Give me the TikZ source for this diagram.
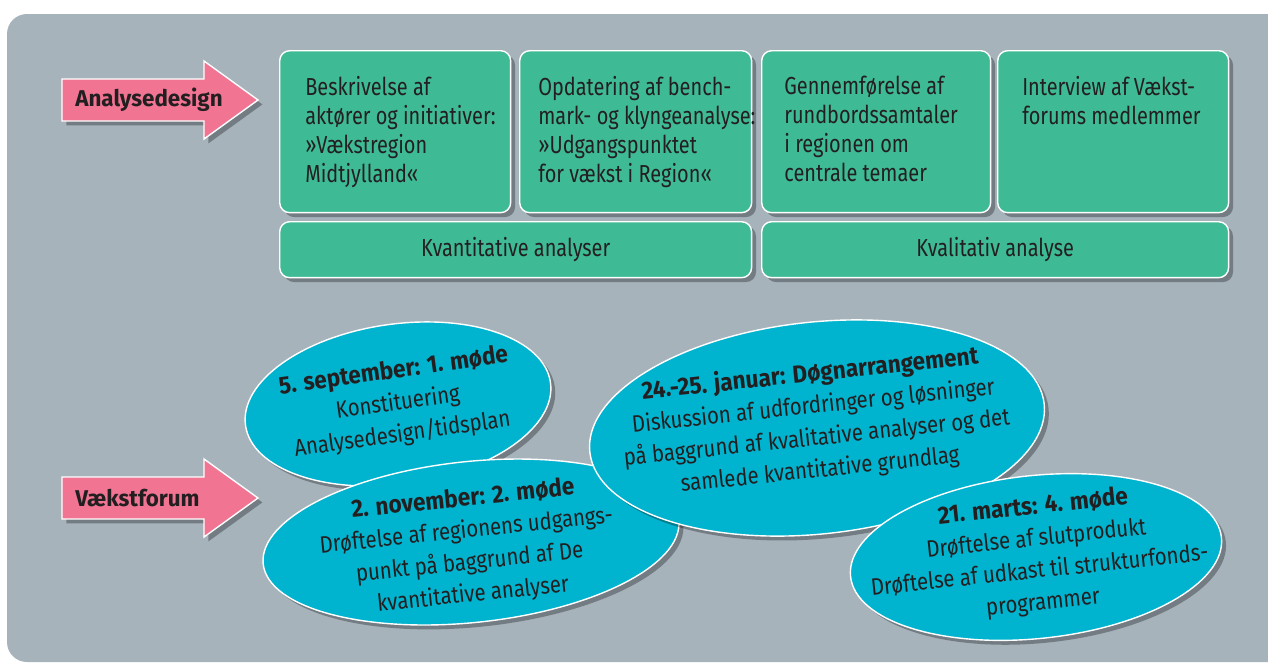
\documentclass[tikz,border=0pt]{standalone}
\usepackage{fontspec}
\setmainfont[FakeStretch=0.81]{Fira Sans}
\newfontfamily\ovalfont[FakeStretch=0.86]{Fira Sans}
\newfontfamily\headfont[FakeStretch=0.92]{Fira Sans}
\newfontfamily\tagfont[FakeStretch=0.98]{Fira Sans}
\usetikzlibrary{shapes.geometric}
\usetikzlibrary{shadows}
\definecolor{panelgray}{HTML}{A6B3BB}
\definecolor{boxgreen}{HTML}{3EBB95}
\definecolor{ovalcyan}{HTML}{00B3CE}
\definecolor{arrowpink}{HTML}{F17493}
\definecolor{ink}{HTML}{231F20}
\newcommand{\meethead}[1]{{\headfont\bfseries\fontsize{14pt}{18.2pt}\selectfont #1}}

\begin{document}
\begin{tikzpicture}[x=0.02cm, y=-0.02cm,
    softshadow/.style={drop shadow={shadow xshift=2.5pt, shadow yshift=-2.5pt, opacity=0.3, fill=black}},
    gbox/.style={draw=white, line width=0.8pt, fill=boxgreen, rounded corners=0.2cm, inner sep=0pt,
      anchor=north west, softshadow, text=ink, font=\fontsize{14pt}{16.5pt}\selectfont},
    btext/.style={inner sep=0pt, anchor=north west, align=left, text=ink, font=\fontsize{14pt}{16.5pt}\selectfont},
    oval/.style={ellipse, draw=white, line width=0.8pt, fill=ovalcyan, inner sep=0pt, softshadow},
    otext/.style={inner sep=0pt, align=center, text=ink, font=\ovalfont\fontsize{13.5pt}{18.2pt}\selectfont},
    tagarrow/.style={draw=white, line width=0.8pt, fill=arrowpink, softshadow},
    tagtext/.style={inner sep=0pt, anchor=west, text=ink, font=\tagfont\bfseries\fontsize{13pt}{15pt}\selectfont}]
  \useasboundingbox (0,0) rectangle (1268,664);
  \fill[white] (0,0) rectangle (1268,664);
  \fill[panelgray, rounded corners=0.4cm] (7,14) rectangle (1300,662);

  % pink arrows
  \foreach \ay/\nm/\txt in {100/ad/Analysedesign, 498/vf/Vækstforum} {
    \filldraw[tagarrow] (62,\ay-21) -- (204,\ay-21) -- (204,\ay-39) -- (258,\ay)
      -- (204,\ay+39) -- (204,\ay+21) -- (62,\ay+21) -- cycle;
    \node[tagtext] (\nm) at (75,\ay) {\txt};
  }

  % analysis boxes
  \node[gbox, minimum width=4.62cm, minimum height=3.24cm] (b1) at (279,50) {};
  \node[gbox, minimum width=4.64cm, minimum height=3.24cm] (b2) at (519,50) {};
  \node[gbox, minimum width=4.58cm, minimum height=3.24cm] (b3) at (761,50) {};
  \node[gbox, minimum width=4.62cm, minimum height=3.24cm] (b4) at (997,50) {};

  \node[btext] (t1) at ([shift={(26,26)}]b1.north west) {Beskrivelse af\\aktører og initiativer:\\»Vækstregion\\Midtjylland«};
  \node[btext] (t2) at ([shift={(19,26)}]b2.north west) {Opdatering af bench-\\mark- og klyngeanalyse:\\»Udgangspunktet\\for vækst i Region«};
  \node[btext] (t3) at ([shift={(23,26)}]b3.north west) {Gennemførelse af\\rundbordssamtaler\\i regionen om\\centrale temaer};
  \node[btext] (t4) at ([shift={(25,26)}]b4.north west) {Interview af Vækst-\\forums medlemmer};

  \node[gbox, minimum width=9.44cm, minimum height=1.12cm] (k1) at (279,221) {Kvantitative analyser};
  \node[gbox, minimum width=9.34cm, minimum height=1.12cm] (k2) at (761,221) {Kvalitativ analyse};

  % meetings
  \node[oval, minimum width=6.16cm, minimum height=3.2cm, rotate=8] (m1) at (398,404) {};
  \node[otext, rotate=8] (n1) at (398,403) {\meethead{5. september: 1. møde}\\Konstituering\\Analysedesign/tidsplan};
  \node[oval, minimum width=8.36cm, minimum height=3.22cm, rotate=6] (m2) at (471,542) {};
  \node[otext, rotate=6] (n2) at (468,547) {\meethead{2. november: 2. møde}\\Drøftelse af regionens udgangs-\\punkt på baggrund af De\\kvantitative analyser};
  \node[oval, minimum width=9.14cm, minimum height=4.24cm, rotate=6] (m3) at (817,428) {};
  \node[otext, rotate=6] (n3) at (815,422) {\meethead{24.-25. januar: Døgnarrangement}\\Diskussion af udfordringer og løsninger\\på baggrund af kvalitative analyser og det\\samlede kvantitative grundlag};
  \node[oval, minimum width=7.46cm, minimum height=3.26cm, rotate=6] (m4) at (1036,557) {};
  \node[otext, rotate=6] (n4) at (1038,555) {\meethead{21. marts: 4. møde}\\Drøftelse af slutprodukt\\Drøftelse af udkast til strukturfonds-\\programmer};
\end{tikzpicture}
\end{document}
